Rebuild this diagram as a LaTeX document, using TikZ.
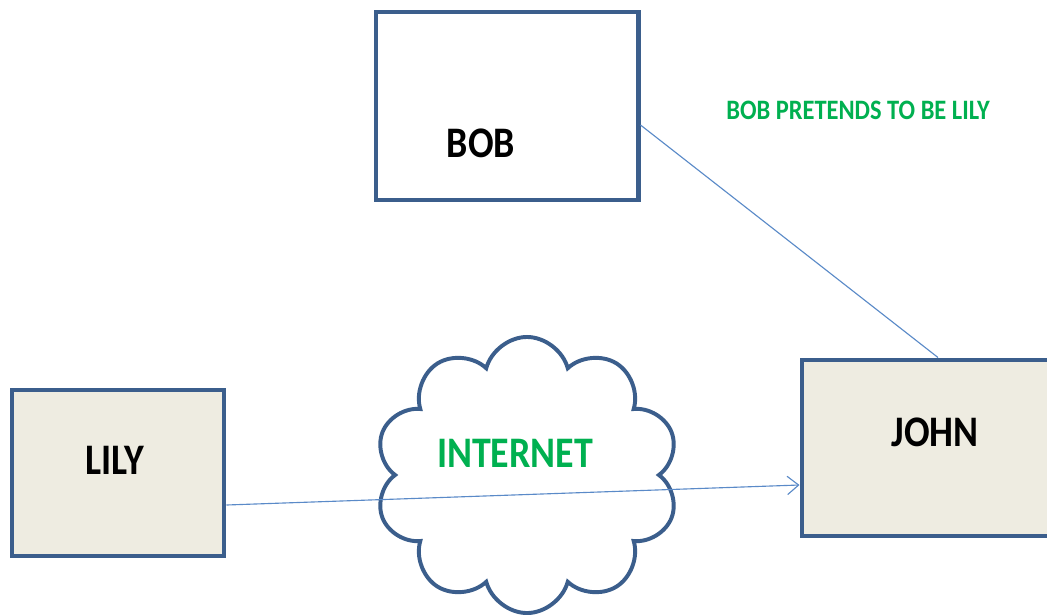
\documentclass[tikz,border=0pt]{standalone}
\usepackage{fontspec}
\setmainfont{Carlito}
\newfontfamily\narrowfont[FakeStretch=0.87]{Carlito}
\usetikzlibrary{shapes.symbols,arrows.meta,calc}
\definecolor{boxblue}{HTML}{3B5E8C}
\definecolor{boxfill}{HTML}{EEECE1}
\definecolor{linkblue}{HTML}{5A8AC8}
\definecolor{netgreen}{HTML}{00B050}

\begin{document}
\begin{tikzpicture}[x=0.025cm, y=-0.025cm, >={Straight Barb[length=8pt,width=13pt]}]
\tikzstyle{block} = [draw=boxblue, line width=3.5pt, rectangle, inner sep=0pt]
\tikzstyle{host} = [block, fill=boxfill]
\tikzstyle{nametext} = [font=\narrowfont\bfseries\fontsize{31}{36}\selectfont, text=black]
\tikzstyle{link} = [draw=linkblue, line width=0.8pt]
\tikzstyle{net} = [cloud, cloud puffs=10, cloud ignores aspect, draw=boxblue, line width=2.8pt, fill=white]

\clip (0,0) rectangle (1047,614);
\fill[white] (0,0) rectangle (1047,614);

    % We start by placing the blocks
    \node [block, minimum width=6.55cm, minimum height=4.7cm] (bob) at (507,106) {};
    \node [host, minimum width=5.3cm, minimum height=4.15cm] (lily) at (118,473) {};
    \node [host, minimum width=6.65cm, minimum height=4.4cm] (john) at (935,448) {};
    \node [net, minimum width=7.6cm, minimum height=6.9cm] (internet) at (527,475) {};

    \node [nametext] (bobname) at (481,143) {BOB};
    \node [nametext] (lilyname) at (115,460) {LILY};
    \node [nametext] (johnname) at (935,432) {JOHN};
    \node [nametext, text=netgreen] (netname) at (515,453) {INTERNET};
    \node [font=\narrowfont\bfseries\fontsize{20}{24}\selectfont, text=netgreen] (fake) at (858,110) {BOB PRETENDS TO BE LILY};

    % Then the links
    \draw [link, ->] ($(lily.east)+(0,32)$) -- ($(john.west)+(0,37)$);
    \draw [link] ($(bob.east)+(0,19)$) -- ($(john.north)+(3,0)$);

\end{tikzpicture}
\end{document}
